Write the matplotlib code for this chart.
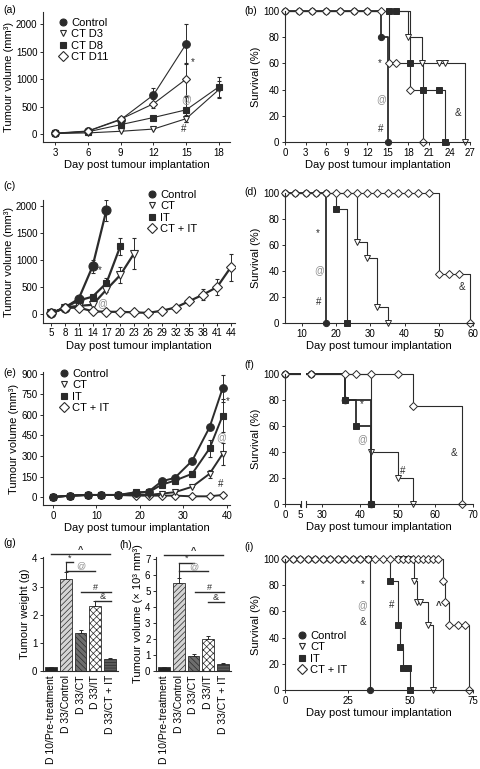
import numpy as np
import matplotlib
matplotlib.use("Agg")
import matplotlib.pyplot as plt
from matplotlib.lines import Line2D

plt.rcParams['font.family'] = ['Liberation Sans', 'DejaVu Sans']
plt.rcParams['hatch.linewidth'] = 0.5

W, H = 480, 769
INK = '#2b2b2b'
GRAY = '#8a8a8a'

# ---------------- data ----------------
# (a) tumour growth, CT given on different days
a_days = [3, 6, 9, 12, 15, 18]
a_ctrl = [10, 50, 260, 710, 1640]
a_ctrl_err = [0, 0, 0, 125, 360]
a_d3 = [10, 20, 50, 90, 280, 810]
a_d3_err = [0, 0, 0, 0, 60, 150]
a_d8 = [10, 40, 170, 300, 440, 860]
a_d8_err = [0, 0, 0, 0, 230, 180]
a_d11 = [15, 55, 270, 550, 1000]
a_d11_err = [0, 0, 0, 80, 300]
a_labels = ['Control', 'CT D3', 'CT D8', 'CT D11']

# (b) survival
b_ctrl_t = [0, 2, 4, 6, 8, 10, 12, 14, 15]
b_ctrl_s = [100, 100, 100, 100, 100, 100, 100, 80, 0]
b_d3_t = [0, 18, 20, 22.5, 23.3, 26.3]
b_d3_s = [100, 80, 60, 60, 60, 0]
b_d8_t = [0, 15.2, 16.2, 18.3, 20.2, 22.5, 23.3]
b_d8_s = [100, 100, 100, 60, 40, 40, 0]
b_d11_t = [0, 2, 4, 6, 8, 10, 12, 14, 15.2, 16.2, 18.3, 20.2]
b_d11_s = [100, 100, 100, 100, 100, 100, 100, 100, 60, 60, 40, 0]

# (c) tumour growth, CT / IT / CT + IT
c_days = [5, 8, 11, 14, 17, 20, 23, 26, 29, 32, 35, 38, 41, 44]
c_ctrl = [10, 120, 280, 880, 1920]
c_ctrl_err = [0, 0, 0, 120, 200]
c_ct = [10, 120, 150, 170, 450, 720, 1120]
c_ct_err = [0, 0, 0, 0, 50, 150, 280]
c_it = [10, 120, 250, 320, 570, 1250]
c_it_err = [0, 0, 0, 0, 100, 150]
c_ctit = [10, 110, 120, 50, 40, 40, 30, 20, 60, 120, 240, 360, 500, 870]
c_ctit_err = [0, 0, 0, 0, 0, 0, 0, 0, 0, 20, 60, 100, 140, 250]
grp_labels = ['Control', 'CT', 'IT', 'CT + IT']

# (d) survival
d_ctrl_t = [5, 8, 11, 14, 17, 17]
d_ctrl_s = [100, 100, 100, 100, 100, 0]
d_it_t = [5, 20, 23]
d_it_s = [100, 87.5, 0]
d_ct_t = [5, 26, 29, 32, 35]
d_ct_s = [100, 62.5, 50, 12.5, 0]
d_ctit_t = [5, 8, 11, 14, 17, 20, 23, 26, 29, 32, 35, 38, 41, 44, 47, 50, 53, 56, 59]
d_ctit_s = [100] * 15 + [37.5, 37.5, 37.5, 0]

# (e) tumour growth, second model
e_days = [0, 4, 8, 11, 15, 19, 22, 25, 28, 32, 36, 39]
e_ctrl = [0, 10, 15, 15, 15, 30, 40, 115, 140, 265, 510, 795]
e_ctrl_err = [0, 0, 0, 0, 0, 0, 0, 0, 0, 0, 20, 100]
e_ct = [0, 10, 15, 15, 15, 20, 15, 25, 35, 75, 170, 315]
e_ct_err = [0, 0, 0, 0, 0, 0, 0, 0, 0, 0, 30, 80]
e_it = [0, 10, 15, 15, 15, 35, 35, 90, 120, 170, 355, 595]
e_it_err = [0, 0, 0, 0, 0, 0, 0, 0, 15, 20, 60, 120]
e_ctit = [0, 10, 15, 15, 15, 10, 10, 10, 10, 5, 5, 15]

# (f) survival, broken x axis
f_ctrl_t = [0, 27, 36, 43]
f_ctrl_s = [100, 100, 80, 0]
f_it_t = [0, 36, 39, 43]
f_it_s = [100, 80, 60, 0]
f_ct_t = [0, 43, 50, 54]
f_ct_s = [100, 40, 20, 0]
f_ctit_t = [0, 27, 36, 39, 43, 50, 54, 67]
f_ctit_s = [100, 100, 100, 100, 100, 100, 75, 0]

# (g) tumour weight / (h) tumour volume at day 33
bar_labels = ['D 10/Pre-treatment', 'D 33/Control', 'D 33/CT', 'D 33/IT', 'D 33/CT + IT']
g_weight = [0.15, 3.28, 1.35, 2.3, 0.43]
g_weight_err = [0, 0.22, 0.12, 0.2, 0.03]
h_volume = [0.25, 5.5, 0.95, 2.0, 0.45]
h_volume_err = [0, 0.3, 0.12, 0.2, 0.05]
g_sig = [(0, 4, 4.14, '^'), (1, 1.5, 3.86, '*'), (1, 3, 3.57, '@'), (2, 4.05, 2.82, '#'), (3, 4.05, 2.5, '&')]
h_sig = [(0, 4, 7.2, '^'), (1, 2, 6.75, '*'), (1, 3, 6.2, '@'), (2.1, 4.05, 4.9, '#'), (3, 4.05, 4.3, '&')]

# (i) survival, third model
i_ctrl_t = [0, 3, 6, 9, 12, 15, 18, 21, 24, 27, 30, 33, 34]
i_ctrl_s = [100] * 12 + [0]
i_it_t = [0, 42, 45, 46, 47, 49, 50]
i_it_s = [100, 83, 50, 33, 17, 17, 0]
i_ct_t = [0, 33, 45, 47, 49, 51.5, 52.5, 54, 57, 59]
i_ct_s = [100, 100, 100, 100, 100, 83, 67, 67, 50, 0]
i_ctit_t = [0, 3, 6, 9, 12, 15, 18, 21, 24, 27, 30, 33, 36, 39, 42, 45, 47, 49, 51,
            53, 55, 57, 59, 61, 63, 64, 65.5, 69, 72, 73.5]
i_ctit_s = [100] * 24 + [83, 67, 50, 50, 50, 0]

fig = plt.figure(figsize=(W / 100, H / 100), dpi=100)


def add_ax(l, t, r, b):
    ax = fig.add_axes([l / W, 1 - b / H, (r - l) / W, (b - t) / H])
    for s in ['top', 'right']:
        ax.spines[s].set_visible(False)
    for s in ['left', 'bottom']:
        ax.spines[s].set_color(INK)
        ax.spines[s].set_linewidth(0.8)
    ax.tick_params(labelsize=7, length=2.5, width=0.7, pad=1.5, color=INK)
    return ax


def growth(ax, x, y, err, marker, fc, ms, lw):
    n = len(y)
    ax.errorbar(x[:n], y, yerr=err, color=INK, lw=lw, marker=marker, ms=ms,
                mfc=fc, mec=INK, mew=0.8, capsize=1.5, elinewidth=0.7, capthick=0.7)


def surv(ax, t, s, marker, fc, ms, lw=0.8, skip_first=False):
    mk = list(range(1 if skip_first else 0, len(t)))
    ax.plot(t, s, drawstyle='steps-post', color=INK, lw=lw, marker=marker, ms=ms,
            mfc=fc, mec=INK, mew=0.7, markevery=mk, clip_on=False)


def legend(ax, labels, markers, fcs, ms, x, y):
    hs = [Line2D([], [], ls='none', marker=m, mfc=f, mec=INK, mew=0.8, ms=ms)
          for m, f in zip(markers, fcs)]
    ax.legend(hs, labels, loc='upper left', bbox_to_anchor=(x / W, 1 - y / H),
              bbox_transform=fig.transFigure, frameon=False, fontsize=8,
              handlelength=0.6, handletextpad=0.4, labelspacing=0.12, borderpad=0,
              borderaxespad=0)


def note(ax, x, y, sym, size=7):
    ax.text(x, y, sym, ha='center', va='center', fontsize=size,
            color=GRAY if sym == '@' else INK, clip_on=False)


def labels(ax, ylab, xlab='Day post tumour implantation'):
    if xlab:
        ax.set_xlabel(xlab, fontsize=8, labelpad=2)
    ax.set_ylabel(ylab, fontsize=8, labelpad=1.5)


MK = ['o', 'v', 's', 'D']
FC = [INK, 'white', INK, 'white']

# ---------------- (a) ----------------
ax = add_ax(43, 12, 230, 142)
growth(ax, a_days, a_ctrl, a_ctrl_err, 'o', INK, 5.5, 0.8)
growth(ax, a_days, a_d3, a_d3_err, 'v', 'white', 5, 0.8)
growth(ax, a_days, a_d8, a_d8_err, 's', INK, 4.5, 0.8)
growth(ax, a_days, a_d11, a_d11_err, 'D', 'white', 4.5, 0.8)
ax.set_xlim(1.9, 19.0)
ax.set_ylim(-145, 2218)
ax.set_xticks(a_days)
ax.set_yticks([0, 500, 1000, 1500, 2000])
labels(ax, 'Tumour volume (mm³)')
legend(ax, a_labels, MK, FC, 5, 60, 18)
note(ax, 15.6, 1310, '*')
note(ax, 15.0, 640, '@')
note(ax, 14.8, 90, '#')

# ---------------- (b) ----------------
ax = add_ax(285, 11, 470, 142)
surv(ax, b_d8_t, b_d8_s, 's', INK, 4, skip_first=True)
surv(ax, b_d3_t, b_d3_s, 'v', 'white', 4.5, skip_first=True)
surv(ax, b_ctrl_t, b_ctrl_s, 'o', INK, 4.5, lw=1.3)
surv(ax, b_d11_t, b_d11_s, 'D', 'white', 4)
ax.set_xlim(0, 27)
ax.set_ylim(0, 100)
ax.set_xticks(range(0, 28, 3))
ax.set_yticks(range(0, 101, 20))
labels(ax, 'Survival (%)')
note(ax, 13.9, 60, '*')
note(ax, 14.0, 33, '@')
note(ax, 14.0, 10, '#')
note(ax, 25.3, 22, '&')

# ---------------- (c) ----------------
ax = add_ax(43, 200, 235, 323)
growth(ax, c_days, c_ctrl, c_ctrl_err, 'o', INK, 6.5, 1.6)
growth(ax, c_days, c_ct, c_ct_err, 'v', 'white', 5.5, 1.6)
growth(ax, c_days, c_it, c_it_err, 's', INK, 5, 1.6)
growth(ax, c_days, c_ctit, c_ctit_err, 'D', 'white', 5, 1.6)
ax.set_xlim(3.27, 44.87)
ax.set_ylim(-167, 2111)
ax.set_xticks(c_days)
ax.set_yticks([0, 500, 1000, 1500, 2000])
ax.tick_params(axis='x', pad=1)
labels(ax, 'Tumour volume (mm³)')
legend(ax, grp_labels, MK, FC, 5, 149, 190)
note(ax, 15.6, 815, '*')
note(ax, 16.2, 200, '@')

# ---------------- (d) ----------------
ax = add_ax(285, 193, 473, 323)
surv(ax, d_it_t, d_it_s, 's', INK, 4, skip_first=True)
surv(ax, d_ct_t, d_ct_s, 'v', 'white', 4.5, skip_first=True)
surv(ax, d_ctrl_t, d_ctrl_s, 'o', INK, 4.5, lw=1.3)
surv(ax, d_ctit_t, d_ctit_s, 'D', 'white', 4)
ax.set_xlim(5, 60)
ax.set_ylim(0, 100)
ax.set_xticks(range(10, 61, 10))
ax.set_yticks(range(0, 101, 20))
labels(ax, 'Survival (%)')
note(ax, 14.7, 69, '*')
note(ax, 14.9, 41, '@')
note(ax, 14.9, 16, '#')
note(ax, 56.7, 28, '&')

# ---------------- (e) ----------------
ax = add_ax(43, 372, 230, 505)
growth(ax, e_days, e_ctit, [0] * len(e_ctit), 'D', 'white', 4.5, 1.4)
growth(ax, e_days, e_ct, e_ct_err, 'v', 'white', 5, 1.4)
growth(ax, e_days, e_it, e_it_err, 's', INK, 4.5, 1.4)
growth(ax, e_days, e_ctrl, e_ctrl_err, 'o', INK, 5.5, 1.4)
ax.set_xlim(-2.3, 40.7)
ax.set_ylim(-58.5, 914.6)
ax.set_xticks([0, 10, 20, 30, 40])
ax.set_yticks(range(0, 901, 150))
labels(ax, 'Tumour volume (mm³)')
legend(ax, grp_labels, MK, FC, 5, 61, 369)
note(ax, 40.3, 705, '*')
note(ax, 38.6, 441, '@')
note(ax, 38.6, 95, '#')

# ---------------- (f) ----------------
ax = add_ax(285, 374, 473, 504)
brk_in = [0, 5, 26, 100]
brk_out = [0, 15, 22, 299.5]
ax.set_xscale('function', functions=(lambda v: np.interp(v, brk_in, brk_out),
                                     lambda v: np.interp(v, brk_out, brk_in)))
surv(ax, f_it_t, f_it_s, 's', INK, 4, lw=1.3, skip_first=True)
surv(ax, f_ct_t, f_ct_s, 'v', 'white', 4.5, skip_first=True)
surv(ax, f_ctrl_t, f_ctrl_s, 'o', INK, 4.8, lw=1.3)
surv(ax, f_ctit_t, f_ctit_s, 'D', 'white', 4)
ax.set_xlim(0, 70)
ax.set_ylim(0, 100)
ax.set_xticks([0, 5, 30, 40, 50, 60, 70])
ax.set_yticks(range(0, 101, 20))
gap = ax.axvspan(7.5, 23.5, ymin=-0.02, ymax=1.02, color='white', zorder=2.6, lw=0)
gap.set_clip_on(False)
for xb in (7.5, 23.5):
    ax.plot([xb, xb], [-2.5, 2.5], color=INK, lw=0.8, zorder=3, clip_on=False)
labels(ax, 'Survival (%)')
note(ax, 40.6, 77, '*')
note(ax, 40.5, 50, '@')
note(ax, 51.4, 25, '#')
note(ax, 64.9, 39, '&')

# ---------------- (g) / (h) ----------------
bar_fill = ['#222222', '#d4d4d4', '#6e6e6e', 'white', '#5a5a5a']
bar_hatch = ['', '//////', '\\\\\\\\\\\\', 'xxxxx', '------']


def bars(ax, vals, errs, sig, risers):
    x = np.arange(len(vals))
    rects = ax.bar(x, vals, width=0.78, color=bar_fill, edgecolor=INK, lw=0.6)
    for r, h in zip(rects, bar_hatch):
        r.set_hatch(h)
    ax.errorbar(x, vals, yerr=[np.zeros(len(errs)), errs], fmt='none', ecolor=INK,
                capsize=1.5, elinewidth=0.7, capthick=0.7)
    for x0, x1, y, sym in sig:
        ax.plot([x0, x1], [y, y], color=INK, lw=1.0, clip_on=False)
        ax.text((x0 + x1) / 2, y, sym, ha='center', va='bottom', fontsize=6.5,
                fontweight='bold' if sym == '^' else 'normal',
                color=GRAY if sym == '@' else INK, clip_on=False)
    for xb, y0, y1 in risers:
        ax.plot([xb, xb], [y0, y1], color=INK, lw=0.8, clip_on=False)
    ax.set_xlim(-0.55, 4.55)
    ax.set_xticks(x)
    ax.set_xticklabels(bar_labels, rotation=90, fontsize=7.5)
    ax.tick_params(axis='x', length=0, pad=3)


ax = add_ax(43, 557, 118, 671)
bars(ax, g_weight, g_weight_err, g_sig, [(1, 3.5, 3.86), (3, 2.5, 2.5)])
ax.set_ylim(0, 4.05)
ax.set_yticks(range(0, 5))
labels(ax, 'Tumour weight (g)', xlab=None)

ax = add_ax(156, 557, 231, 671)
bars(ax, h_volume, h_volume_err, h_sig, [(1, 5.8, 6.75)])
ax.set_ylim(0, 7.1)
ax.set_yticks(range(0, 8))
labels(ax, 'Tumour volume (× 10³ mm³)', xlab=None)

# ---------------- (i) ----------------
ax = add_ax(285, 559, 473, 690)
surv(ax, i_it_t, i_it_s, 's', INK, 4, skip_first=True)
surv(ax, i_ct_t, i_ct_s, 'v', 'white', 4.5, skip_first=True)
surv(ax, i_ctrl_t, i_ctrl_s, 'o', INK, 4.5)
surv(ax, i_ctit_t, i_ctit_s, 'D', 'white', 4)
ax.set_xlim(0, 75)
ax.set_ylim(0, 100)
ax.set_xticks([0, 25, 50, 75])
ax.set_yticks(range(0, 101, 20))
labels(ax, 'Survival (%)')
legend(ax, grp_labels, MK, FC, 5, 299, 631)
note(ax, 31, 81, '*')
note(ax, 30.6, 65, '@')
note(ax, 31, 52, '&')
note(ax, 42.4, 65, '#')
ax.text(61.4, 64, '^', ha='center', va='center', fontsize=7, fontweight='bold', color=INK)

# ---------------- panel letters ----------------
for lab, px, py in [('(a)', 3, 10), ('(b)', 244, 11), ('(c)', 3, 186), ('(d)', 244, 192),
                    ('(e)', 3, 373), ('(f)', 244, 365), ('(g)', 3, 543), ('(h)', 119, 545),
                    ('(i)', 244, 547)]:
    fig.text(px / W, 1 - py / H, lab, fontsize=7.5, va='center', ha='left')

fig.savefig('out.png', dpi=100)
